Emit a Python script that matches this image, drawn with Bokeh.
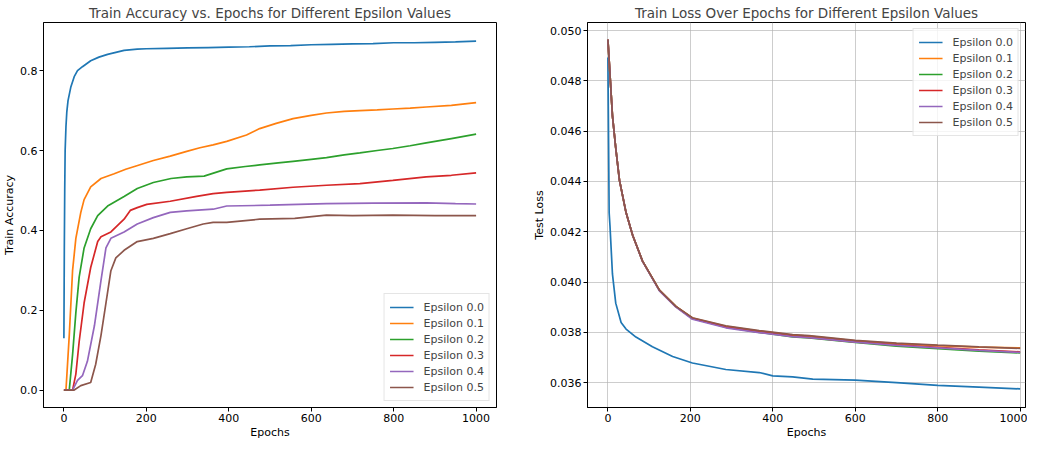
from bokeh.plotting import figure
from bokeh.layouts import row
from bokeh.models import FixedTicker, NumeralTickFormatter, Range1d
from bokeh.embed import file_html
from bokeh.resources import INLINE

# ---------------- data: train accuracy ----------------
labels = ["Epsilon 0.0", "Epsilon 0.1", "Epsilon 0.2", "Epsilon 0.3", "Epsilon 0.4", "Epsilon 0.5"]
colors = ["#1f77b4", "#ff7f0e", "#2ca02c", "#d62728", "#9467bd", "#8c564b"]

acc_ep_0 = [0, 1, 2, 3, 5, 7, 10, 17, 25, 33, 45, 65, 85, 106, 126, 146, 178, 200, 250, 300, 350,
            400, 450, 500, 550, 600, 650, 700, 750, 800, 850, 900, 950, 1000]
acc_0 = [0.13, 0.35, 0.50, 0.60, 0.66, 0.696, 0.725, 0.76, 0.785, 0.80, 0.81, 0.825, 0.834, 0.841,
         0.846, 0.851, 0.854, 0.855, 0.856, 0.857, 0.858, 0.859, 0.860, 0.862, 0.863, 0.865, 0.866,
         0.867, 0.868, 0.870, 0.870, 0.871, 0.872, 0.874]

acc_ep_1 = [0, 5, 13, 21, 29, 41, 49, 65, 90, 122, 150, 177, 217, 258, 298, 330, 362, 395, 443, 475,
            515, 556, 600, 637, 680, 718, 760, 798, 840, 879, 940, 1000]
acc_1 = [0.0, 0.0, 0.137, 0.299, 0.38, 0.445, 0.477, 0.509, 0.53, 0.542, 0.553, 0.562, 0.575, 0.586,
         0.598, 0.607, 0.614, 0.623, 0.639, 0.655, 0.668, 0.68, 0.688, 0.694, 0.698, 0.70, 0.702,
         0.704, 0.706, 0.709, 0.713, 0.720]

acc_ep_2 = [0, 13, 21, 29, 37, 49, 65, 82, 106, 146, 178, 217, 260, 298, 340, 395, 440, 475, 520, 556,
            600, 637, 680, 718, 760, 798, 840, 879, 940, 1000]
acc_2 = [0.0, 0.0, 0.088, 0.194, 0.283, 0.356, 0.404, 0.437, 0.461, 0.485, 0.505, 0.52, 0.53, 0.534,
         0.536, 0.554, 0.56, 0.564, 0.569, 0.573, 0.578, 0.582, 0.589, 0.594, 0.60, 0.605, 0.612,
         0.619, 0.63, 0.641]

acc_ep_3 = [0, 21, 29, 37, 49, 65, 82, 90, 114, 146, 161, 178, 201, 258, 322, 362, 395, 475, 556, 637,
            718, 798, 879, 940, 1000]
acc_3 = [0.0, 0.0, 0.04, 0.121, 0.218, 0.307, 0.372, 0.384, 0.396, 0.428, 0.45, 0.457, 0.465, 0.473,
         0.485, 0.492, 0.495, 0.501, 0.508, 0.513, 0.517, 0.525, 0.534, 0.538, 0.544]

acc_ep_4 = [0, 21, 33, 45, 57, 74, 90, 102, 114, 146, 178, 217, 258, 298, 362, 395, 500, 637, 750, 879,
            950, 1000]
acc_4 = [0.0, 0.0, 0.024, 0.036, 0.072, 0.161, 0.275, 0.356, 0.38, 0.396, 0.416, 0.432, 0.445, 0.449,
         0.453, 0.461, 0.463, 0.467, 0.468, 0.469, 0.467, 0.466]

acc_ep_5 = [0, 25, 41, 65, 77, 90, 102, 114, 126, 146, 178, 217, 258, 298, 338, 362, 395, 475, 560, 637,
            700, 798, 900, 1000]
acc_5 = [0.0, 0.0, 0.011, 0.019, 0.064, 0.137, 0.218, 0.299, 0.331, 0.35, 0.372, 0.38, 0.392, 0.404,
         0.416, 0.42, 0.42, 0.428, 0.43, 0.438, 0.437, 0.438, 0.437, 0.437]

# ---------------- data: loss ----------------
loss_ep_0 = [0, 3, 5, 11, 19, 32, 44, 68, 108, 157, 205, 286, 367, 400, 448, 497, 600, 700, 800, 900, 1000]
loss_0 = [0.04893, 0.04276, 0.04225, 0.04032, 0.03916, 0.03839, 0.03813, 0.03781, 0.03743, 0.03704,
          0.03678, 0.03652, 0.0364, 0.03627, 0.03623, 0.03614, 0.0361, 0.0360, 0.03589, 0.03582, 0.03575]

loss_ep_hi = [0, 11, 19, 28, 44, 60, 84, 125, 165, 205, 286, 367, 448, 488, 600, 700, 800, 900, 1000]
loss_1 = [0.04964, 0.04662, 0.04533, 0.04405, 0.04276, 0.04186, 0.04083, 0.03968, 0.03903, 0.03857,
          0.03824, 0.03805, 0.03789, 0.03785, 0.03766, 0.03755, 0.03747, 0.03741, 0.03738]
loss_2 = [0.04964, 0.04662, 0.04533, 0.04405, 0.04276, 0.04186, 0.04083, 0.03967, 0.03902, 0.03855,
          0.03820, 0.03800, 0.03782, 0.03778, 0.03760, 0.03745, 0.03735, 0.03725, 0.03718]
loss_3 = [0.04964, 0.04662, 0.04533, 0.04405, 0.04276, 0.04186, 0.04083, 0.03967, 0.03902, 0.03855,
          0.03821, 0.03801, 0.03785, 0.03780, 0.03762, 0.03750, 0.03740, 0.03730, 0.03722]
loss_4 = [0.04964, 0.04662, 0.04533, 0.04405, 0.04276, 0.04186, 0.04082, 0.03965, 0.03900, 0.03852,
          0.03818, 0.03799, 0.03783, 0.03779, 0.03761, 0.03748, 0.03738, 0.03728, 0.03720]
loss_5 = [0.04964, 0.04662, 0.04533, 0.04405, 0.04276, 0.04186, 0.04083, 0.03968, 0.03903, 0.03858,
          0.03826, 0.03807, 0.03791, 0.03787, 0.03768, 0.03757, 0.03749, 0.03742, 0.03736]

epoch_ticks = [0, 200, 400, 600, 800, 1000]
acc_ticks = [0.0, 0.2, 0.4, 0.6, 0.8]
loss_ticks = [0.036, 0.038, 0.040, 0.042, 0.044, 0.046, 0.048, 0.050]

FONT = "DejaVu Sans"


def style(p, xlabel, ylabel):
    p.title.text_font = FONT
    p.title.text_font_size = "13.5px"
    p.title.text_font_style = "normal"
    p.title.align = "center"
    p.title.standoff = 4
    p.outline_line_color = "black"
    p.outline_line_width = 1
    for ax in (p.xaxis[0], p.yaxis[0]):
        ax.major_label_text_font = FONT
        ax.major_label_text_font_size = "11px"
        ax.major_label_text_color = "black"
        ax.axis_label_text_font = FONT
        ax.axis_label_text_font_size = "11px"
        ax.axis_label_text_font_style = "normal"
        ax.axis_label_text_color = "black"
        ax.major_tick_in = 0
        ax.major_tick_out = 4
        ax.minor_tick_in = 0
        ax.minor_tick_out = 0
        ax.axis_line_color = "black"
        ax.major_tick_line_color = "black"
        ax.major_label_standoff = 2
        ax.axis_label_standoff = 1
    p.xaxis[0].axis_label = xlabel
    p.yaxis[0].axis_label = ylabel
    p.xaxis[0].ticker = FixedTicker(ticks=epoch_ticks)


# ---------------- left figure ----------------
p1 = figure(width=522, height=441, output_backend="svg", toolbar_location=None,
            title="Train Accuracy vs. Epochs for Different Epsilon Values",
            x_range=Range1d(-49.5, 1049.5), y_range=Range1d(-0.0437, 0.9207),
            min_border_left=42, min_border_right=26, min_border_top=0, min_border_bottom=0)
style(p1, "Epochs", "Train Accuracy")
p1.yaxis[0].ticker = FixedTicker(ticks=acc_ticks)
p1.yaxis[0].formatter = NumeralTickFormatter(format="0.0")
p1.xgrid.visible = False
p1.ygrid.visible = False

acc_x = [acc_ep_0, acc_ep_1, acc_ep_2, acc_ep_3, acc_ep_4, acc_ep_5]
acc_y = [acc_0, acc_1, acc_2, acc_3, acc_4, acc_5]
for xs, ys, c, lab in zip(acc_x, acc_y, colors, labels):
    p1.line(xs, ys, line_color=c, line_width=1.7, legend_label=lab)

# ---------------- right figure ----------------
p2 = figure(width=505, height=441, output_backend="svg", toolbar_location=None,
            title="Train Loss Over Epochs for Different Epsilon Values",
            x_range=Range1d(-49.5, 1013), y_range=Range1d(0.03501, 0.05032),
            min_border_left=65, min_border_right=2, min_border_top=0, min_border_bottom=0)
style(p2, "Epochs", "Test Loss")
p2.yaxis[0].ticker = FixedTicker(ticks=loss_ticks)
p2.yaxis[0].formatter = NumeralTickFormatter(format="0.000")
for g in (p2.xgrid[0], p2.ygrid[0]):
    g.grid_line_color = "#b0b0b0"
    g.grid_line_width = 0.8
    g.grid_line_alpha = 0.8
p2.xgrid[0].ticker = FixedTicker(ticks=epoch_ticks)
p2.ygrid[0].ticker = FixedTicker(ticks=loss_ticks)

loss_x = [loss_ep_0, loss_ep_hi, loss_ep_hi, loss_ep_hi, loss_ep_hi, loss_ep_hi]
loss_y = [loss_0, loss_1, loss_2, loss_3, loss_4, loss_5]
for xs, ys, c, lab in zip(loss_x, loss_y, colors, labels):
    p2.line(xs, ys, line_color=c, line_width=1.7, legend_label=lab)

for p, loc in ((p1, "bottom_right"), (p2, "top_right")):
    lg = p.legend[0]
    lg.location = loc
    lg.margin = 6
    lg.padding = 5
    lg.spacing = 0
    lg.label_text_font = FONT
    lg.label_text_font_size = "11px"
    lg.label_height = 16
    lg.glyph_height = 16
    lg.glyph_width = 24
    lg.label_standoff = 10
    lg.border_line_color = "#cccccc"
    lg.border_line_width = 1
    lg.background_fill_alpha = 0.8

layout = row(p1, p2)
open("out.html", "w").write(file_html(layout, INLINE))
